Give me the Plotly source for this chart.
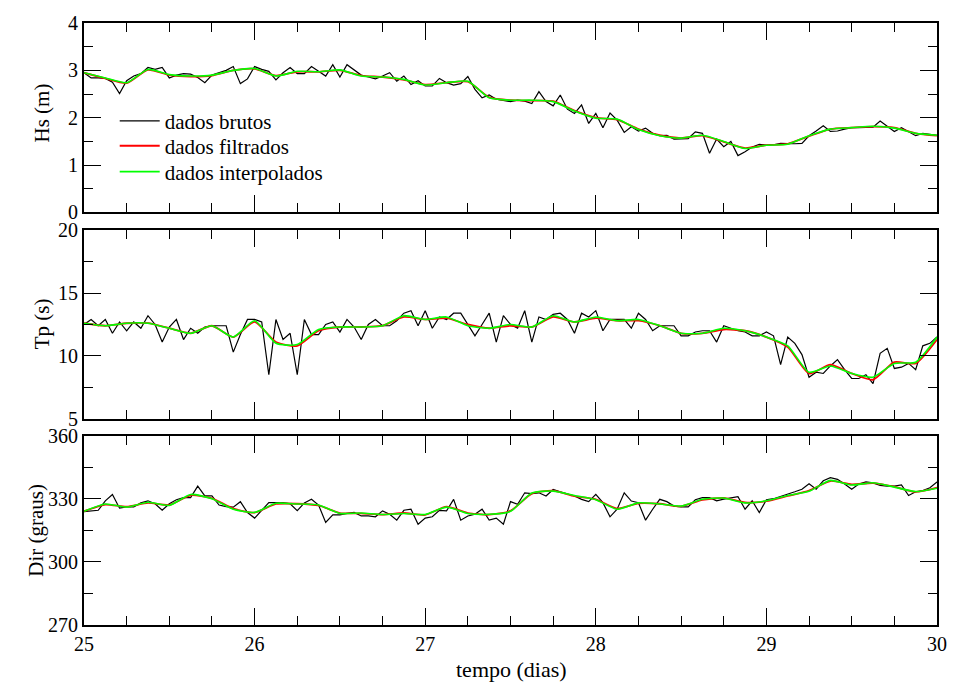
import numpy as np
import plotly.graph_objects as go

# ---------------- data ----------------
# raw data: hourly samples from day 25 to day 30
t_raw = [25 + i / 24 for i in range(121)]
# filtered / interpolated: 3-hourly samples
t_smooth = [25 + j / 8 for j in range(41)]

hs_raw = [2.95, 2.84, 2.84, 2.83, 2.75, 2.51, 2.78, 2.88, 2.93, 3.06, 3.02, 3.06,
          2.84, 2.90, 2.93, 2.92, 2.85, 2.74, 2.90, 2.95, 3.00, 3.08, 2.72, 2.82,
          3.08, 3.02, 2.98, 2.80, 2.95, 3.06, 2.93, 2.93, 3.08, 2.98, 2.88, 3.12,
          2.86, 3.12, 3.00, 2.90, 2.86, 2.82, 2.88, 2.95, 2.77, 2.88, 2.70, 2.78,
          2.67, 2.67, 2.83, 2.74, 2.69, 2.72, 2.87, 2.60, 2.42, 2.48, 2.39, 2.37,
          2.34, 2.37, 2.35, 2.30, 2.55, 2.34, 2.25, 2.48, 2.18, 2.09, 2.27, 1.88,
          2.09, 1.79, 2.10, 1.95, 1.69, 1.81, 1.72, 1.78, 1.67, 1.62, 1.63, 1.55,
          1.55, 1.56, 1.70, 1.67, 1.25, 1.55, 1.39, 1.50, 1.20, 1.28, 1.38, 1.44,
          1.42, 1.43, 1.46, 1.45, 1.45, 1.46, 1.62, 1.72, 1.83, 1.71, 1.72, 1.76,
          1.79, 1.79, 1.80, 1.80, 1.93, 1.82, 1.71, 1.79, 1.70, 1.62, 1.67, 1.65,
          1.63]
hs_filt = [2.95, 2.83, 2.73, 3.01, 2.90, 2.87, 2.89, 3.00, 3.03, 2.89, 2.97, 2.97,
           3.00, 2.89, 2.86, 2.80, 2.70, 2.74, 2.76, 2.43, 2.37, 2.36, 2.35, 2.15,
           2.00, 1.96, 1.76, 1.63, 1.57, 1.62, 1.49, 1.36, 1.42, 1.45, 1.61, 1.76,
           1.79, 1.81, 1.79, 1.67, 1.62]
hs_interp = [2.95, 2.84, 2.74, 3.02, 2.91, 2.88, 2.90, 3.00, 3.04, 2.88, 2.98, 2.97,
             3.01, 2.88, 2.86, 2.81, 2.69, 2.74, 2.77, 2.42, 2.37, 2.37, 2.34, 2.14,
             1.99, 1.97, 1.75, 1.62, 1.57, 1.63, 1.50, 1.35, 1.42, 1.44, 1.62, 1.76,
             1.79, 1.82, 1.78, 1.67, 1.63]

tp_raw = [12.5, 12.9, 12.4, 12.9, 11.8, 12.7, 12.0, 12.7, 12.2, 13.2, 12.5, 11.1,
          12.3, 12.9, 11.3, 12.2, 11.8, 12.3, 12.4, 12.4, 12.4, 10.3, 11.7, 12.9,
          12.9, 12.7, 8.5, 12.9, 11.3, 11.8, 8.5, 12.9, 11.7, 11.7, 12.5, 12.7,
          11.9, 12.9, 12.3, 11.3, 12.5, 12.9, 12.4, 12.4, 12.8, 13.4, 13.6, 12.4,
          13.6, 12.2, 13.1, 12.9, 13.4, 13.4, 12.5, 11.6, 12.5, 13.4, 11.1, 13.2,
          12.5, 12.2, 13.6, 11.1, 13.1, 12.9, 13.3, 13.4, 12.9, 11.8, 13.4, 13.1,
          13.6, 12.0, 12.9, 12.9, 12.9, 12.2, 13.4, 12.9, 12.0, 12.4, 12.4, 12.4,
          11.6, 11.6, 11.9, 12.0, 12.0, 11.1, 12.4, 12.2, 12.0, 11.9, 11.6, 11.6,
          11.9, 11.6, 9.3, 11.5, 11.0, 10.1, 8.3, 8.7, 8.6, 9.2, 9.7, 8.9,
          8.2, 8.2, 8.5, 7.8, 10.2, 10.6, 9.0, 9.1, 9.4, 8.9, 10.8, 11.0,
          11.5]
tp_filt = [12.6, 12.4, 12.6, 12.6, 12.2, 11.8, 12.4, 11.5, 12.7, 11.1, 10.8, 12.0,
           12.3, 12.3, 12.4, 13.1, 12.9, 13.0, 12.5, 12.2, 12.4, 12.3, 13.1, 12.7,
           13.0, 12.8, 12.8, 12.4, 11.8, 11.8, 12.1, 12.0, 11.5, 10.7, 8.6, 9.3,
           8.6, 8.1, 9.5, 9.4, 11.3]
tp_interp = [12.6, 12.4, 12.6, 12.6, 12.2, 11.8, 12.4, 11.5, 12.8, 11.0, 10.9, 12.1,
             12.3, 12.3, 12.4, 13.2, 12.9, 13.1, 12.4, 12.2, 12.5, 12.3, 13.2, 12.7,
             13.1, 12.8, 12.9, 12.4, 11.8, 11.8, 12.2, 12.0, 11.5, 10.8, 8.7, 9.2,
             8.6, 8.3, 9.4, 9.5, 11.5]

dir_raw = [323.9, 324.3, 324.5, 329.0, 332.0, 325.5, 326.1, 326.1, 328.0, 329.0, 327.6, 324.5,
           327.6, 329.5, 330.5, 330.5, 336.0, 331.3, 331.3, 327.0, 326.2, 326.0, 328.6, 323.4,
           320.8, 324.5, 328.1, 328.1, 328.1, 327.6, 324.3, 328.0, 329.7, 327.0, 318.7, 322.3,
           322.3, 323.0, 323.5, 321.8, 321.8, 321.4, 324.2, 322.6, 319.8, 324.5, 325.0, 317.9,
           320.8, 321.4, 324.5, 324.2, 329.7, 319.8, 321.8, 322.6, 325.0, 319.8, 320.8, 317.9,
           328.6, 327.3, 332.8, 332.4, 332.8, 331.3, 334.4, 333.3, 332.4, 331.3, 329.7, 328.6,
           332.1, 328.1, 321.4, 325.0, 332.8, 328.9, 328.1, 319.8, 325.0, 329.7, 328.6, 326.5,
           326.1, 326.1, 329.5, 330.5, 330.5, 329.0, 329.8, 330.5, 331.0, 325.0, 329.0, 323.4,
           329.5, 330.0, 331.0, 332.1, 333.3, 334.5, 337.1, 334.5, 338.5, 340.0, 339.2, 337.0,
           334.5, 337.0, 338.0, 337.5, 336.3, 336.0, 336.0, 336.5, 331.5, 333.3, 333.9, 335.2,
           338.0]
dir_filt = [324.0, 327.2, 326.2, 328.0, 327.0, 331.6, 330.2, 325.3, 323.4, 327.5, 327.6, 326.8,
            323.2, 323.0, 322.4, 323.2, 322.3, 326.2, 323.2, 322.4, 324.2, 332.4, 333.8, 331.2,
            329.7, 325.3, 327.8, 327.6, 326.4, 329.4, 330.4, 328.2, 328.8, 331.3, 333.8, 338.4,
            336.8, 337.4, 335.7, 333.2, 335.3]
dir_interp = [324.0, 327.5, 326.0, 328.3, 326.8, 332.0, 330.0, 325.0, 323.5, 327.8, 327.5, 327.0,
              323.0, 323.2, 322.5, 323.0, 322.5, 326.0, 323.0, 322.6, 324.0, 332.7, 333.6, 331.5,
              329.5, 325.0, 328.0, 327.5, 326.5, 329.7, 330.3, 328.0, 329.0, 331.5, 333.5, 338.7,
              336.5, 337.6, 335.5, 333.4, 335.0]

legend_names = ["dados brutos", "dados filtrados", "dados interpolados"]
y_titles = ["Hs (m)", "Tp (s)", "Dir (graus)"]
x_title = "tempo (dias)"

# ---------------- figure ----------------
FONT = "Liberation Serif"
fig = go.Figure()

legend_ids = ["legend", "legend2", "legend3"]
panels = [
    (hs_raw, hs_filt, hs_interp, "x", "y"),
    (tp_raw, tp_filt, tp_interp, "x2", "y2"),
    (dir_raw, dir_filt, dir_interp, "x3", "y3"),
]
for k, (raw, filt, interp, xa, ya) in enumerate(panels):
    show = (k == 0)
    fig.add_trace(go.Scatter(x=t_raw, y=raw, mode="lines", name=legend_names[0],
                             line=dict(color="black", width=1.2), xaxis=xa, yaxis=ya,
                             showlegend=show, legend=legend_ids[0]))
    fig.add_trace(go.Scatter(x=t_smooth, y=filt, mode="lines", name=legend_names[1],
                             line=dict(color="#ff0000", width=1.8, shape="spline", smoothing=0.6),
                             xaxis=xa, yaxis=ya, showlegend=show, legend=legend_ids[1]))
    fig.add_trace(go.Scatter(x=t_smooth, y=interp, mode="lines", name=legend_names[2],
                             line=dict(color="#00ff00", width=1.6, shape="spline", smoothing=0.6),
                             xaxis=xa, yaxis=ya, showlegend=show, legend=legend_ids[2]))

tickfont = dict(family=FONT, size=20, color="black")


def xaxis(domain_anchor, labels):
    return dict(range=[25, 30], tick0=25, dtick=1, ticks="inside", ticklen=17,
                tickwidth=1.3, tickcolor="black",
                minor=dict(dtick=0.25, ticks="inside", ticklen=9, tickwidth=1.3,
                           tickcolor="black"),
                showline=True, linecolor="black", linewidth=2, mirror="ticks",
                showgrid=False, zeroline=False, showticklabels=labels,
                tickfont=tickfont, anchor=domain_anchor)


def yaxis(rng, dt, mdt, domain, anchor):
    return dict(range=rng, tick0=rng[0], dtick=dt, ticks="inside", ticklen=17,
                tickwidth=1.3, tickcolor="black",
                minor=dict(dtick=mdt, tick0=rng[0], ticks="inside", ticklen=9,
                           tickwidth=1.3, tickcolor="black"),
                showline=True, linecolor="black", linewidth=2, mirror="ticks",
                showgrid=False, zeroline=False, tickfont=tickfont,
                domain=domain, anchor=anchor)


legend_font = dict(family=FONT, size=21, color="black")
legend_rows = [0.837, 0.7955, 0.7525]
legend_common = dict(x=0.036, xanchor="left", yanchor="middle",
                     bgcolor="rgba(0,0,0,0)", font=legend_font, itemwidth=40,
                     borderwidth=0)

fig.update_layout(
    width=959, height=682,
    margin=dict(l=84, r=15, t=18, b=57),
    paper_bgcolor="white", plot_bgcolor="white",
    font=dict(family=FONT, size=21, color="black"),
    xaxis=xaxis("y", False),
    xaxis2=xaxis("y2", False),
    xaxis3=xaxis("y3", True),
    yaxis=yaxis([0, 4], 1, 0.5, [0.6853, 1.0], "x"),
    yaxis2=yaxis([5, 20], 5, 2.5, [0.3427, 0.6557], "x2"),
    yaxis3=yaxis([270, 360], 30, 15, [0.0, 0.3147], "x3"),
    legend=dict(y=legend_rows[0], **legend_common),
    legend2=dict(y=legend_rows[1], **legend_common),
    legend3=dict(y=legend_rows[2], **legend_common),
    showlegend=True,
)

ann = [(y_titles[0], -0.049, 0.85), (y_titles[1], -0.049, 0.50), (y_titles[2], -0.056, 0.157)]
for title, xx, yy in ann:
    fig.add_annotation(text=title, xref="paper", yref="paper", x=xx, y=yy,
                       xanchor="center", yanchor="middle", textangle=-90,
                       showarrow=False, font=dict(family=FONT, size=21, color="black"))
fig.add_annotation(text=x_title, xref="paper", yref="paper", x=0.501, y=-0.074,
                   xanchor="center", yanchor="middle", showarrow=False,
                   font=dict(family=FONT, size=22, color="black"))

fig.write_html("out.html")
